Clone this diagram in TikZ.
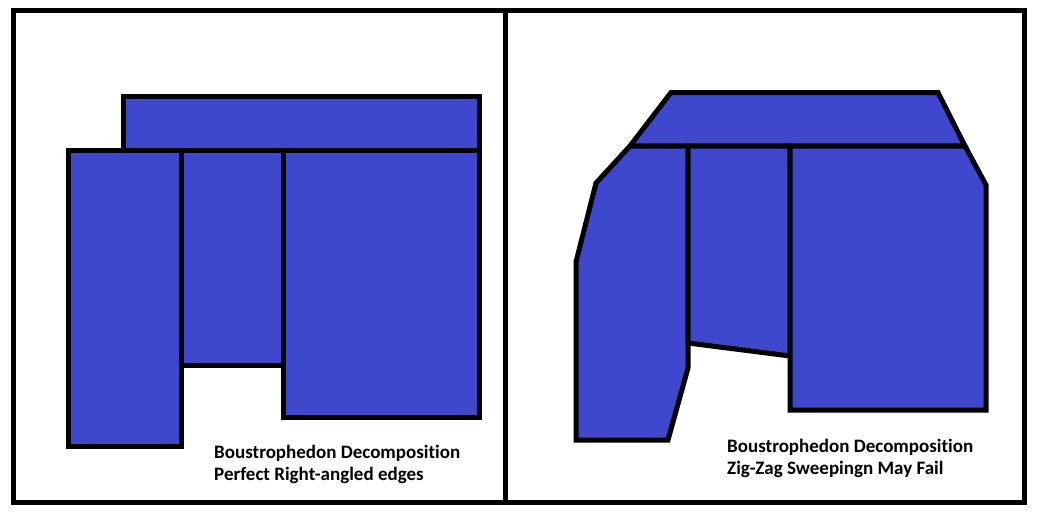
\documentclass[tikz,border=0pt]{standalone}
\usepackage{fontspec}
\setmainfont[RawFeature={-liga;-clig;-dlig}]{Carlito}
\definecolor{paintblue}{RGB}{63,72,204}
\begin{document}
\begin{tikzpicture}[x=1pt,y=-1pt,
  cell/.style={fill=paintblue,draw=black,line width=5pt,line join=miter},
  frameline/.style={draw=black,line width=5pt},
  caption/.style={anchor=base west,inner sep=0pt,font=\bfseries\fontsize{19}{22}\selectfont}]
\useasboundingbox (0,0) rectangle (1038,512);
% outer frame
\draw[frameline] (13.5,10.5) rectangle (1024.5,502.5);
\coordinate (midtop) at (505.5,10.5);
\coordinate (midbot) at (505.5,502.5);
\draw[frameline] (midtop) -- (midbot);
% left panel
\draw[cell] (123.5,96.5) rectangle (479.5,150.5);
\draw[cell] (68.5,150.5) rectangle (181.5,446);
\draw[cell] (181.5,150.5) rectangle (283.5,365);
\draw[cell] (283.5,150.5) rectangle (479.5,417);
% right panel
\draw[cell] (671,92.5) -- (938,92.5) -- (965,146) -- (630,146) -- cycle;
\draw[cell] (630,146) -- (688,146) -- (688,368) -- (668,440) -- (576,440) -- (576,262) -- (596,183) -- cycle;
\draw[cell] (688,146) -- (790,146) -- (790,356) -- (688,343) -- cycle;
\draw[cell] (790,146) -- (965,146) -- (986,185) -- (986,410) -- (790,410) -- cycle;
% captions
\node[caption] (capLa) at (214,458) {Boustrophedon Decomposition};
\node[caption] (capLb) at (214,480) {Perfect Right-angled edges};
\node[caption] (capRa) at (727,452) {Boustrophedon Decomposition};
\node[caption] (capRb) at (727,474) {Zig-Zag Sweepingn May Fail};
\end{tikzpicture}
\end{document}
